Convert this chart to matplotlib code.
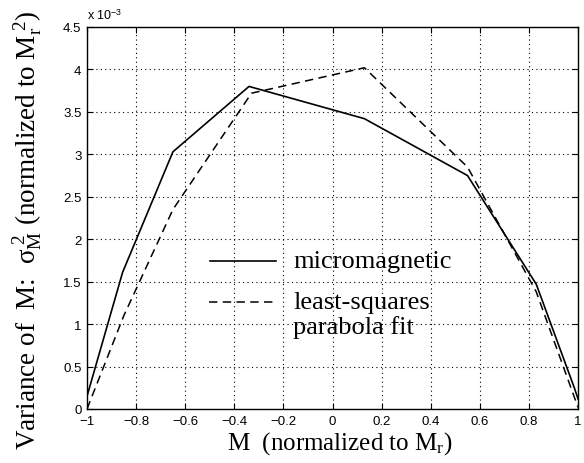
import matplotlib
matplotlib.use("Agg")
import matplotlib.pyplot as plt
from matplotlib.ticker import FuncFormatter

# Data (variance in units of 1e-3, normalized to Mr^2)
m_micro = [-1.0, -0.855, -0.65, -0.34, 0.13, 0.55, 0.83, 0.985, 1.0]
var_micro = [0.15, 1.61, 3.03, 3.80, 3.42, 2.75, 1.47, 0.25, 0.12]

m_fit = [-1.0, -0.85, -0.65, -0.33, 0.13, 0.55, 0.83, 1.0]
var_fit = [0.0, 1.10, 2.35, 3.72, 4.02, 2.85, 1.38, 0.02]

xticks = [-1, -0.8, -0.6, -0.4, -0.2, 0, 0.2, 0.4, 0.6, 0.8, 1]
yticks = [0, 0.5, 1, 1.5, 2, 2.5, 3, 3.5, 4, 4.5]

plt.rcParams['mathtext.fontset'] = 'custom'
plt.rcParams['mathtext.rm'] = 'Liberation Serif'
plt.rcParams['mathtext.it'] = 'Liberation Serif:italic'
serif = ['Liberation Serif', 'DejaVu Serif']
sans = ['Liberation Sans', 'DejaVu Sans']

fig = plt.figure(figsize=(5.84, 4.64), dpi=100)
ax = fig.add_axes([87/584, 54/464, 491/584, 382/464])

ax.plot(m_micro, var_micro, color='black', lw=1.2, ls='-')
ax.plot(m_fit, var_fit, color='black', lw=1.1, ls=(0, (5.5, 3.5)))

ax.set_xlim(-1, 1)
ax.set_ylim(0, 4.5)
ax.set_xticks(xticks)
ax.set_yticks(yticks)

fmt = FuncFormatter(lambda v, p: ('%g' % v).replace('-', '\u2212'))
ax.xaxis.set_major_formatter(fmt)
ax.yaxis.set_major_formatter(fmt)

ax.tick_params(direction='in', length=4, width=0.8, top=True, right=True,
               labelsize=9.5, pad=4)
for lab in ax.get_xticklabels() + ax.get_yticklabels():
    lab.set_family(sans)

ax.grid(True, color='black', ls=(0, (1, 3)), lw=0.8)
for s in ax.spines.values():
    s.set_linewidth(1.0)

ax.text(0.0, 1.012, 'x 10$^{\\mathregular{-3}}$', transform=ax.transAxes,
        fontsize=9, family=sans, ha='left', va='bottom')

ax.set_xlabel('M  (normalized to M$_{\\mathrm{r}}$)', fontsize=18,
              family=serif)
ax.xaxis.set_label_coords(0.515, -0.052)
ax.set_ylabel('Variance of  M:  \u03c3$_{\\mathrm{M}}^{\\ 2}$ (normalized to M$_{\\mathrm{r}}^{\\ 2}$)',
              fontsize=19.5, family=serif)
ax.yaxis.set_label_coords(-0.085, 0.47)

# legend keys
ax.plot([0.2505, 0.385], [0.387, 0.387], color='black', lw=1.2,
        transform=ax.transAxes)
ax.plot([0.2485, 0.383], [0.280, 0.280], color='black', lw=1.1,
        ls=(0, (5.5, 3.5)), transform=ax.transAxes)
ax.text(0.420, 0.387, 'micromagnetic', transform=ax.transAxes, fontsize=19,
        family=serif, va='center', ha='left')
ax.text(0.420, 0.280, 'least-squares', transform=ax.transAxes, fontsize=19,
        family=serif, va='center', ha='left')
ax.text(0.420, 0.215, 'parabola fit', transform=ax.transAxes, fontsize=19,
        family=serif, va='center', ha='left')

fig.savefig('out.png', dpi=100)
